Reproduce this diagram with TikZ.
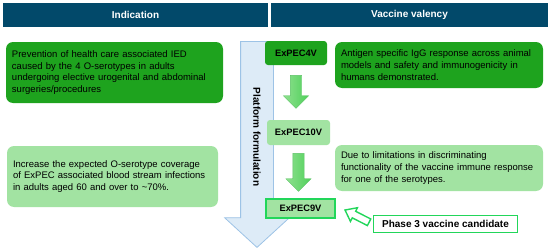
\documentclass[tikz,border=0pt]{standalone}
\usepackage{fontspec}
\setmainfont{Liberation Sans}
\usepackage{xcolor}
\usetikzlibrary{shapes.arrows, positioning, calc}

\definecolor{kopfblau}{HTML}{02496A}
\definecolor{dunkelgruen}{HTML}{1EA31E}
\definecolor{hellgruen}{HTML}{A2E3A2}
\definecolor{pfeiloben}{HTML}{8FE08F}
\definecolor{pfeilunten}{HTML}{4FD05A}
\definecolor{pfeilrand}{HTML}{5CC266}
\definecolor{leuchtgruen}{HTML}{22D65A}
\definecolor{plattfuell}{HTML}{DDEBF7}
\definecolor{plattrand}{HTML}{9DC3E6}

\tikzset{
  kopf/.style={fill=kopfblau, text=white, minimum height=24pt, inner sep=0pt,
    font=\bfseries\fontsize{10}{12}\selectfont},
  textbox/.style={rounded corners=7pt, align=left, inner xsep=6pt, inner ysep=0pt,
    font=\fontsize{9.5}{11.7}\selectfont},
  dunkelbox/.style={textbox, fill=dunkelgruen},
  hellbox/.style={textbox, fill=hellgruen},
  valenz/.style={rounded corners=3pt, inner sep=0pt,
    font=\bfseries\fontsize{9.3}{11}\selectfont},
  gruenpfeil/.style={single arrow, draw=pfeilrand, left color=pfeiloben, right color=pfeilunten,
    inner xsep=0pt, inner ysep=5.5pt, single arrow head extend=7pt,
    single arrow tip angle=90, minimum width=0pt, rotate=-90},
  hohlpfeil/.style={single arrow, draw=leuchtgruen, fill=white, line width=1.4pt,
    inner xsep=0pt, inner ysep=3pt, single arrow head extend=4pt,
    single arrow tip angle=75, minimum width=0pt}
}

\begin{document}
\begin{tikzpicture}[x=1pt, y=-1pt]

  \useasboundingbox (0,0) rectangle (550,252);

  % Kopfzeile
  \node[kopf, minimum width=265pt] (kopfInd) at (135.5,15) {Indication};
  \node[kopf, minimum width=277pt] (kopfVal) at (409.5,15) {Vaccine valency};

  % grosser Pfeil im Hintergrund
  \node[single arrow, draw=plattrand, fill=plattfuell, line width=0.8pt,
        inner xsep=0pt, inner ysep=16pt, single arrow head extend=16pt,
        single arrow tip angle=95, minimum width=0pt, minimum height=206pt,
        rotate=-90, anchor=tail] (platt) at (257,41) {};

  % Beschriftung im Schaft
  \node[rotate=-90, font=\bfseries\fontsize{10}{12}\selectfont] (plattText)
        at (257,137) {Platform formulation};

  % ===== Indikation (links) =====

  \node[dunkelbox, minimum height=61pt, text width=205pt] (ind1) at (114.5,72.5)
        {Prevention of health care associated IED\\
         caused by the 4 O-serotypes in adults\\
         undergoing elective urogenital and abdominal\\
         surgeries/procedures};

  \node[hellbox, minimum height=61pt, text width=199pt] (ind2) at (112.5,176.5)
        {Increase the expected O-serotype coverage\\
         of ExPEC associated blood stream infections\\
         in adults aged 60 and over to \textasciitilde70\%.};

  % ===== Valenzen (Mitte) =====

  \node[valenz, fill=dunkelgruen, minimum width=62pt, minimum height=24pt] (v4)
        at (296,53) {ExPEC4V};
  \node[valenz, fill=hellgruen, minimum width=63pt, minimum height=25pt] (v10)
        at (298.5,132.5) {ExPEC10V};
  \node[valenz, rounded corners=0pt, fill=hellgruen, draw=leuchtgruen, line width=2pt,
        minimum width=69pt, minimum height=19pt] (v9) at (300.5,208.5) {ExPEC9V};

  % Pfeile zwischen den Valenzen
  \node[gruenpfeil, anchor=tail, minimum height=33pt] (p1) at ([yshift=-10pt]v4.south) {};
  \node[gruenpfeil, anchor=tail, minimum height=38pt] (p2) at ([yshift=-8pt]v10.south) {};

  % ===== Begruendungen (rechts) =====

  \node[dunkelbox, minimum height=46pt, text width=196pt] (val1) at (439,65)
        {Antigen specific IgG response across animal\\
         models and safety and immunogenicity in\\
         humans demonstrated.};

  \node[hellbox, minimum height=46pt, text width=196pt] (val2) at (439,168)
        {Due to limitations in discriminating\\
         functionality of the vaccine immune response\\
         for one of the serotypes.};

  % Kandidat Phase 3
  \node[draw=leuchtgruen, line width=1.5pt, fill=white, minimum width=144pt,
        minimum height=17pt, inner sep=0pt,
        font=\bfseries\fontsize{10}{12}\selectfont] (phase) at (445.5,224)
        {Phase 3 vaccine candidate};

  % Hohlpfeil zum ExPEC9V
  \node[hohlpfeil, minimum height=27pt, rotate=153, anchor=tip] (p3)
        at ([xshift=8pt,yshift=-1pt]v9.east) {};

\end{tikzpicture}
\end{document}
